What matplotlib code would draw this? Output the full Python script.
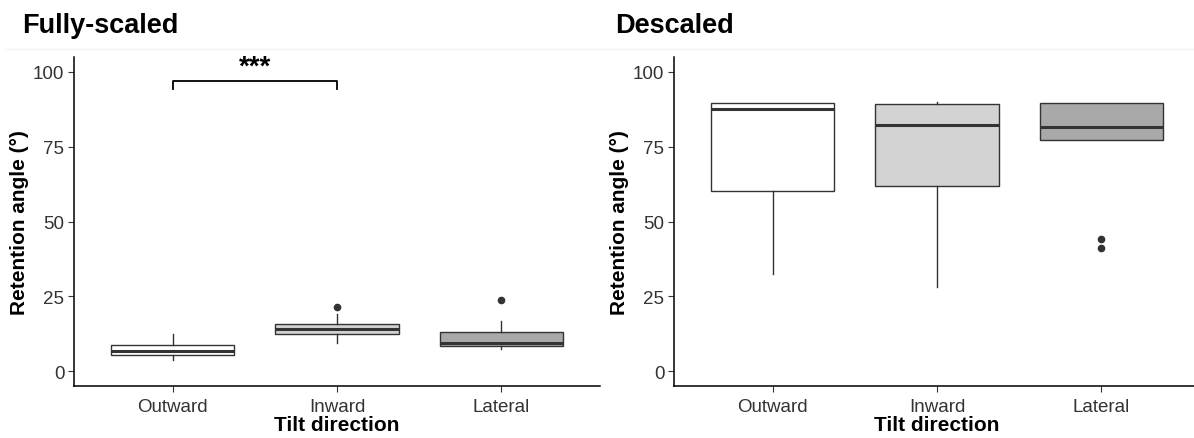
import numpy as np
import matplotlib
matplotlib.use("Agg")
import matplotlib.pyplot as plt

plt.rcParams['font.family'] = ['Liberation Sans', 'DejaVu Sans']

# categories and fills
directions = ["Outward", "Inward", "Lateral"]
fills = ["#ffffff", "#d3d3d3", "#a9a9a9"]

# box summaries: (whisker low, Q1, median, Q3, whisker high)
full_wlo = [3.7, 9.5, 7.3]
full_q1 = [5.5, 12.3, 8.5]
full_med = [6.8, 13.9, 9.5]
full_q3 = [8.6, 15.8, 13.0]
full_whi = [12.5, 19.2, 16.6]
full_out = [[], [21.4], [23.8]]

desc_wlo = [32.5, 28.1, 77.2]
desc_q1 = [60.1, 61.8, 77.2]
desc_med = [87.5, 82.1, 81.7]
desc_q3 = [89.7, 89.4, 89.7]
desc_whi = [89.7, 89.8, 89.7]
desc_out = [[], [], [44.1, 41.2]]

W, H = 1194, 439


def make_stats(wlo, q1, med, q3, whi, out):
    stats = []
    for i in range(len(med)):
        stats.append(dict(whislo=wlo[i], q1=q1[i], med=med[i], q3=q3[i],
                          whishi=whi[i], fliers=out[i], label=directions[i]))
    return stats


def panel(left_px, title_px, title, stats):
    ax = fig.add_axes([left_px / W, (H - 387) / H, 526 / W, (387 - 58) / H])
    bp = ax.bxp(stats, positions=[1, 2, 3], widths=0.75, patch_artist=True,
                showcaps=False,
                boxprops=dict(edgecolor="#333333", linewidth=1.0),
                medianprops=dict(color="#333333", linewidth=2.2),
                whiskerprops=dict(color="#333333", linewidth=1.0),
                flierprops=dict(marker="o", markersize=4.5, markerfacecolor="#333333",
                                markeredgecolor="#333333"))
    for patch, c in zip(bp["boxes"], fills):
        patch.set_facecolor(c)
    ax.set_xlim(0.4, 3.6)
    ax.set_ylim(-5, 105)
    ax.set_yticks([0, 25, 50, 75, 100])
    ax.set_xticks([1, 2, 3])
    ax.set_xticklabels(directions)
    for s in ["top", "right"]:
        ax.spines[s].set_visible(False)
    for s in ["left", "bottom"]:
        ax.spines[s].set_linewidth(1.1)
        ax.spines[s].set_color("black")
    ax.tick_params(axis="both", length=4, width=0.8, color="#333333",
                   labelsize=13.5, labelcolor="#333333", pad=3)
    ax.tick_params(axis="x", pad=5)
    ax.set_xlabel("Tilt direction", fontsize=15, fontweight="bold", labelpad=0)
    ax.set_ylabel("Retention angle (°)", fontsize=15, fontweight="bold", labelpad=3)
    fig.text(title_px / W, 1 - 26 / H, title, fontsize=19.5,
             fontweight="bold", va="center", ha="left")
    return ax


fig = plt.figure(figsize=(W / 100, H / 100), dpi=100)
# faint line under the titles, as in the source image
fig.add_artist(plt.Line2D([5 / W, 1], [(H - 50) / H] * 2, transform=fig.transFigure,
                          color="#f3f3f3", linewidth=1))

ax1 = panel(74, 22, "Fully-scaled",
            make_stats(full_wlo, full_q1, full_med, full_q3, full_whi, full_out))
ax2 = panel(674, 615, "Descaled",
            make_stats(desc_wlo, desc_q1, desc_med, desc_q3, desc_whi, desc_out))

# significance bracket Outward vs Inward
br_y, br_tip = 97.1, 94.3
ax1.plot([1, 1, 2, 2], [br_tip, br_y, br_y, br_tip], color="black", linewidth=1.3)
ax1.text(1.5, br_y + 0.3, "***", ha="center", va="bottom", fontsize=20, fontweight="bold")

fig.savefig("out.png", dpi=100)
